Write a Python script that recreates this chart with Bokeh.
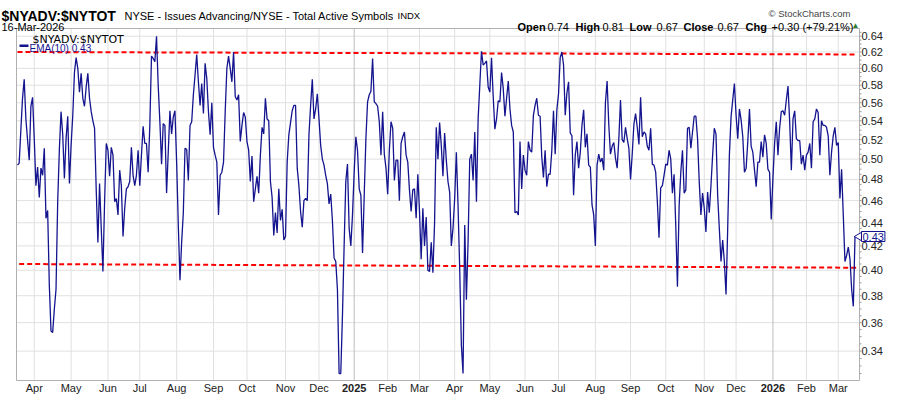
import math
import pandas as pd
from bokeh.plotting import figure
from bokeh.models import Range1d, Label, BoxAnnotation
from bokeh.core.properties import value
from bokeh.embed import file_html
from bokeh.resources import INLINE

# ---------------- data ----------------
title_symbol = "$NYADV:$NYTOT"
title_desc = "NYSE - Issues Advancing/NYSE - Total Active Symbols"
exchange = "INDX"
last_date = "16-Mar-2026"
ohlc_names = ["Open", "High", "Low", "Close", "Chg"]
ohlc_values = ["0.74", "0.81", "0.67", "0.67", "+0.30 (+79.21%)"]
ema_label = "EMA(10) 0.43"

first_session = "2024-03-15"
last_session = "2026-03-16"
nyse_holidays = ["2024-03-29", "2024-05-27", "2024-06-19", "2024-07-04", "2024-09-02",
                 "2024-11-28", "2024-12-25", "2025-01-01", "2025-01-09", "2025-01-20",
                 "2025-02-17", "2025-04-18", "2025-05-26", "2025-06-19", "2025-07-04",
                 "2025-09-01", "2025-11-27", "2025-12-25", "2026-01-01", "2026-01-19",
                 "2026-02-16"]

# daily NYSE advancing / total active symbols ratio, one value per session
ratio = [
    0.494, 0.496, 0.530, 0.565, 0.587, 0.542, 0.520, 0.499, 0.556, 0.566,
    0.521, 0.474, 0.492, 0.463, 0.491, 0.484, 0.511, 0.444, 0.451, 0.388,
    0.354, 0.353, 0.370, 0.385, 0.459, 0.510, 0.550, 0.525, 0.481, 0.521,
    0.545, 0.476, 0.514, 0.546, 0.595, 0.613, 0.600, 0.572, 0.594, 0.565,
    0.556, 0.578, 0.594, 0.565, 0.550, 0.540, 0.532, 0.470, 0.423, 0.476,
    0.435, 0.399, 0.459, 0.516, 0.509, 0.483, 0.512, 0.504, 0.459, 0.462,
    0.447, 0.489, 0.474, 0.428, 0.453, 0.471, 0.473, 0.478, 0.512, 0.484,
    0.474, 0.484, 0.509, 0.474, 0.504, 0.534, 0.516, 0.516, 0.487, 0.535,
    0.615, 0.612, 0.608, 0.640, 0.580, 0.539, 0.495, 0.537, 0.535, 0.467,
    0.507, 0.551, 0.526, 0.544, 0.551, 0.497, 0.438, 0.392, 0.423, 0.449,
    0.511, 0.510, 0.479, 0.535, 0.539, 0.569, 0.592, 0.617, 0.584, 0.557,
    0.582, 0.548, 0.606, 0.588, 0.550, 0.525, 0.560, 0.512, 0.504, 0.497,
    0.447, 0.484, 0.487, 0.497, 0.550, 0.600, 0.615, 0.600, 0.584, 0.620,
    0.567, 0.563, 0.569, 0.518, 0.535, 0.549, 0.544, 0.518, 0.509, 0.478,
    0.503, 0.459, 0.471, 0.483, 0.467, 0.504, 0.533, 0.526, 0.565, 0.542,
    0.540, 0.478, 0.463, 0.429, 0.449, 0.431, 0.471, 0.442, 0.452, 0.425,
    0.428, 0.497, 0.525, 0.538, 0.551, 0.557, 0.557, 0.491, 0.474, 0.450,
    0.436, 0.460, 0.462, 0.460, 0.525, 0.557, 0.587, 0.542, 0.553, 0.570,
    0.542, 0.514, 0.500, 0.494, 0.484, 0.476, 0.457, 0.466, 0.442, 0.410,
    0.407, 0.385, 0.325, 0.325, 0.365, 0.420, 0.478, 0.495, 0.435, 0.420,
    0.447, 0.487, 0.523, 0.509, 0.471, 0.465, 0.414, 0.465, 0.521, 0.561,
    0.569, 0.573, 0.612, 0.561, 0.559, 0.556, 0.539, 0.504, 0.550, 0.505,
    0.491, 0.466, 0.509, 0.539, 0.532, 0.479, 0.499, 0.499, 0.460, 0.516,
    0.523, 0.528, 0.504, 0.497, 0.470, 0.450, 0.470, 0.471, 0.444, 0.485,
    0.450, 0.409, 0.453, 0.420, 0.445, 0.400, 0.399, 0.423, 0.398, 0.440,
    0.533, 0.500, 0.538, 0.514, 0.483, 0.527, 0.499, 0.478, 0.468, 0.420,
    0.435, 0.462, 0.507, 0.456, 0.401, 0.344, 0.325, 0.438, 0.377, 0.423,
    0.500, 0.505, 0.479, 0.528, 0.459, 0.542, 0.580, 0.621, 0.604, 0.606,
    0.609, 0.578, 0.572, 0.613, 0.567, 0.531, 0.542, 0.562, 0.561, 0.595,
    0.576, 0.545, 0.565, 0.585, 0.553, 0.535, 0.528, 0.449, 0.450, 0.447,
    0.518, 0.471, 0.504, 0.489, 0.484, 0.518, 0.509, 0.507, 0.546, 0.557,
    0.565, 0.546, 0.545, 0.502, 0.482, 0.509, 0.473, 0.485, 0.485, 0.509,
    0.551, 0.505, 0.552, 0.570, 0.613, 0.620, 0.604, 0.546, 0.571, 0.584,
    0.527, 0.524, 0.465, 0.504, 0.518, 0.491, 0.507, 0.535, 0.552, 0.512,
    0.526, 0.494, 0.492, 0.456, 0.447, 0.420, 0.494, 0.505, 0.497, 0.501,
    0.489, 0.560, 0.585, 0.536, 0.505, 0.513, 0.517, 0.501, 0.491, 0.520,
    0.563, 0.520, 0.517, 0.533, 0.521, 0.511, 0.480, 0.505, 0.536, 0.548,
    0.533, 0.515, 0.566, 0.523, 0.528, 0.526, 0.513, 0.509, 0.532, 0.495,
    0.494, 0.487, 0.459, 0.427, 0.472, 0.474, 0.484, 0.495, 0.494, 0.509,
    0.500, 0.467, 0.485, 0.437, 0.387, 0.455, 0.487, 0.509, 0.467, 0.470,
    0.532, 0.533, 0.511, 0.528, 0.545, 0.545, 0.521, 0.478, 0.447, 0.467,
    0.453, 0.432, 0.468, 0.449, 0.474, 0.504, 0.532, 0.526, 0.465, 0.435,
    0.407, 0.425, 0.407, 0.381, 0.435, 0.504, 0.544, 0.563, 0.582, 0.546,
    0.521, 0.553, 0.541, 0.523, 0.487, 0.491, 0.518, 0.553, 0.513, 0.507,
    0.489, 0.473, 0.497, 0.497, 0.518, 0.502, 0.525, 0.516, 0.490, 0.487,
    0.443, 0.481, 0.516, 0.539, 0.504, 0.532, 0.550, 0.551, 0.546, 0.563,
    0.579, 0.539, 0.489, 0.542, 0.551, 0.521, 0.519, 0.519, 0.495, 0.504,
    0.489, 0.504, 0.507, 0.516, 0.491, 0.539, 0.542, 0.553, 0.549, 0.504,
    0.540, 0.535, 0.535, 0.533, 0.524, 0.484, 0.507, 0.524, 0.533, 0.514,
    0.517, 0.462, 0.490, 0.447, 0.407, 0.412, 0.419, 0.409, 0.385, 0.372,
    0.428,
]

# user-drawn trend lines (session index, ratio)
upper_trend_sessions = [0, 500]
upper_trend = [0.620, 0.617]
lower_trend_sessions = [1, 502]
lower_trend = [0.405, 0.402]

y_ticks = [0.34, 0.36, 0.38, 0.40, 0.42, 0.44, 0.46, 0.48, 0.50, 0.52,
           0.54, 0.56, 0.58, 0.60, 0.62, 0.64]

# ---------------- sessions / month ticks ----------------
sessions = pd.bdate_range(first_session, last_session, freq="C", holidays=nyse_holidays)
month_ticks, month_names, year_ticks, year_names = [], [], [], []
for i in range(1, len(sessions)):
    d, prev = sessions[i], sessions[i - 1]
    if d.month != prev.month:
        if d.month == 1:
            year_ticks.append(i)
            year_names.append(str(d.year))
        else:
            month_ticks.append(i)
            month_names.append(d.strftime("%b"))
x = list(range(len(ratio)))

# ---------------- layout (canvas pixels) ----------------
W, H = 900, 396
PLOT_L, PLOT_R, PLOT_T, PLOT_B = 16, 859, 28, 380
S0_PX, PX_PER_S = 17.0, 1.675
Y_TOP_VAL, Y_BOT_VAL = 0.650, 0.3205
x_lo = (PLOT_L - S0_PX) / PX_PER_S
x_hi = (PLOT_R - S0_PX) / PX_PER_S
k = math.log(Y_TOP_VAL / Y_BOT_VAL) / (PLOT_B - PLOT_T)
yr_top = Y_TOP_VAL * math.exp(PLOT_T * k)
yr_bot = Y_BOT_VAL * math.exp(-(H - PLOT_B) * k)

p = figure(width=W, height=H, x_range=Range1d(-S0_PX / PX_PER_S, (W - S0_PX) / PX_PER_S),
           y_range=Range1d(yr_bot, yr_top), y_axis_type="log",
           x_axis_location=None, y_axis_location=None, output_backend="svg",
           toolbar_location=None, min_border=0)
p.grid.visible = False
p.outline_line_color = None
p.background_fill_color = "white"
p.border_fill_color = "white"

grid_col = "#e0e0e0"
navy = "#14148f"
FONT = value("Liberation Sans")

# grid
p.segment(x0=x_lo, x1=x_hi, y0=y_ticks, y1=y_ticks, line_color=grid_col, line_width=1)
p.segment(x0=month_ticks, x1=month_ticks, y0=Y_BOT_VAL, y1=Y_TOP_VAL,
          line_color=grid_col, line_width=1)
p.segment(x0=year_ticks, x1=year_ticks, y0=Y_BOT_VAL, y1=Y_TOP_VAL,
          line_color="#bdbdbd", line_width=1)
p.quad(left=x_lo, right=x_hi, bottom=Y_BOT_VAL, top=Y_TOP_VAL,
       fill_color=None, line_color="#b0b0b0", line_width=1)

# right axis ticks and labels
minor = [round(0.325 + 0.005 * j, 3) for j in range(65)]
p.segment(x0=x_hi, x1=x_hi + 2 / PX_PER_S, y0=minor, y1=minor,
          line_color="#9a9a9a", line_width=1)
p.text(x=x_hi, y=y_ticks, text=[f"{t:.2f}" for t in y_ticks], x_offset=2,
       text_baseline="middle", text_align="left", text_font=FONT,
       text_font_size="11px", text_color="#222222")

# bottom month labels
p.text(x=month_ticks, y=Y_BOT_VAL, text=month_names, y_offset=7,
       text_align="center", text_baseline="middle", text_font=FONT,
       text_font_size="11px", text_color="#222222")
p.text(x=year_ticks, y=Y_BOT_VAL, text=year_names, y_offset=7,
       text_align="center", text_baseline="middle", text_font=FONT,
       text_font_size="11px", text_font_style="bold", text_color="#222222")

# series and trend lines
p.line(upper_trend_sessions, upper_trend, line_color="#ff0000", line_width=2, line_dash="5 3")
p.line(lower_trend_sessions, lower_trend, line_color="#ff0000", line_width=2, line_dash="5 3")
p.line(x, ratio, line_color=navy, line_width=1.3)


def add_text(text, px, baseline, size, bold=False, color="#000000", align="left",
             font="Liberation Sans"):
    p.add_layout(Label(x=px, y=H - baseline, x_units="screen", y_units="screen",
                       text=text, text_font=font, text_font_size=f"{size}px",
                       text_font_style="bold" if bold else "normal",
                       text_color=color, text_align=align, text_baseline="alphabetic"))


# header
add_text(title_symbol, 1, 15, 14, bold=True)
add_text(title_desc, 124, 15, 11)
add_text(exchange, 397, 15, 9.5)
add_text(last_date, 1, 26, 11)
add_text("\u00a9 StockCharts.com", 850, 13, 9.5, color="#444444", align="right")

ohlc_x = [(517, 547), (575, 602), (629, 656), (683, 717), (745, 771)]
for (nx, vx), nm, vl in zip(ohlc_x, ohlc_names, ohlc_values):
    add_text(nm, nx, 26, 11, bold=True)
    add_text(vl, vx, 26, 11)
add_text("\u25b2", 851, 25, 8, color="#2e7d32")

# in-plot legend
add_text(title_symbol, 32, 39, 11, font="DejaVu Sans")
p.add_layout(BoxAnnotation(left=19, right=28, bottom=H - 46.5, top=H - 44,
                           left_units="screen", right_units="screen",
                           bottom_units="screen", top_units="screen",
                           fill_color=navy, fill_alpha=1, line_color=None))
add_text(ema_label, 29, 48, 10, color=navy)

# last value marker
p.scatter(x=[x_hi], y=[ratio[-1]], marker="triangle", angle=math.pi / 2, size=9,
          fill_color="white", line_color=navy, line_width=1)
p.add_layout(Label(x=861, y=ratio[-1], x_units="screen", y_units="data",
                   text=f"{ratio[-1]:.2f}", text_font="Liberation Sans",
                   text_font_size="11px", text_color=navy, text_align="left",
                   text_baseline="middle", border_line_color=navy,
                   background_fill_color="white", padding=1))

open("out.html", "w").write(file_html(p, INLINE))
